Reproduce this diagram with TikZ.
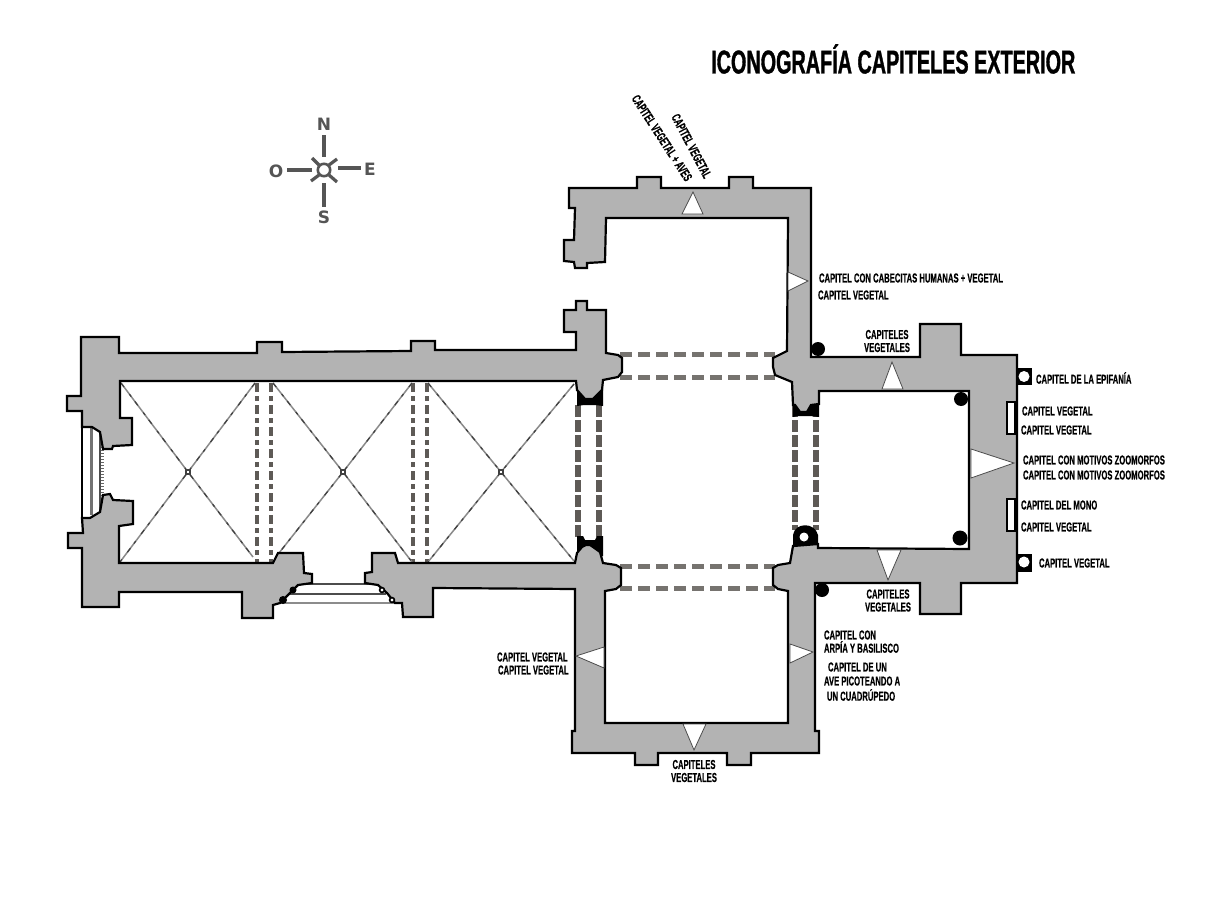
\documentclass[tikz,border=0pt]{standalone}
\usepackage{fontspec}
\setmainfont{Liberation Sans}
\newfontfamily\cnd[FakeStretch=0.59,FakeBold=0.5]{Liberation Sans Bold}
\newfontfamily\cndt[FakeStretch=0.6,FakeBold=1]{Liberation Sans Bold}
\newfontfamily\cpf{DejaVu Sans Bold}
\definecolor{wall}{HTML}{B3B3B3}
\definecolor{archd}{HTML}{5E5A56}
\definecolor{ribc}{HTML}{8A8A8A}
\definecolor{cpsc}{HTML}{555555}
\tikzset{
  x=1pt,y=-1pt,
  wallp/.style={fill=wall,draw=black,line width=2.2pt,line join=miter},
  archn/.style={draw=archd,line width=4pt,dash pattern=on 9pt off 4pt on 5pt off 4pt},
  archv/.style={draw=archd,line width=5.5pt,dash pattern=on 12pt off 3pt},
  archh/.style={draw=archd!85,line width=5pt,dash pattern=on 12pt off 6pt},
  rib/.style={draw=ribc,line width=1.5pt},
  ribd/.style={draw=black!75,line width=1.2pt,dash pattern=on 5pt off 9pt on 3pt off 6pt},
  boss/.style={fill=white,draw=black!75,line width=1.5pt},
  splay/.style={fill=white,draw=black!70,line width=.8pt},
  blob/.style={fill=black,draw=none},
  dot/.style={fill=black,draw=none},
  lab/.style={inner sep=0pt,outer sep=0pt,font=\cnd\fontsize{13}{13.5}\selectfont,text=black},
  labc/.style={lab,align=center,anchor=center},
  labw/.style={lab,anchor=west},
  ray/.style={draw=cpsc,line width=3.2pt},
  cpl/.style={inner sep=0pt,text=cpsc,font=\cpf\fontsize{17}{17}\selectfont},
  hatch/.style={draw=black!60,line width=.7pt},
  stair/.style={draw=black!70,line width=2.6pt}
}
\begin{document}
\begin{tikzpicture}
\useasboundingbox (0,0) rectangle (1209,907);
% transverse arches
\draw[archn] (257,383) -- (257,563);
\draw[archn] (271,383) -- (271,563);
\draw[archn] (413,383) -- (413,563);
\draw[archn] (427,383) -- (427,563);
\draw[archv] (578,405) -- (578,538);
\draw[archv] (599,405) -- (599,538);
\draw[archv] (795,405) -- (795,530);
\draw[archv] (816,405) -- (816,530);
\draw[archh] (620,354) -- (775,354);
\draw[archh] (620,377) -- (775,377);
\draw[archh] (620,566) -- (775,566);
\draw[archh] (620,588) -- (775,588);
% ribs
\draw[rib] (121,383) -- (188,472) -- (120,562);
\draw[rib] (255,383) -- (188,472) -- (253,557);
\draw[rib] (273,383) -- (343,472) -- (279,553);
\draw[rib] (412,383) -- (343,472) -- (412,562);
\draw[rib] (428,383) -- (501,472) -- (428,562);
\draw[rib] (574,384) -- (501,472) -- (574,561);
\draw[ribd] (121,383) -- (188,472) -- (120,562);
\draw[ribd] (255,383) -- (188,472) -- (253,557);
\draw[ribd] (273,383) -- (343,472) -- (279,553);
\draw[ribd] (412,383) -- (343,472) -- (412,562);
\draw[ribd] (428,383) -- (501,472) -- (428,562);
\draw[ribd] (574,384) -- (501,472) -- (574,561);
\draw[boss] (186,470) rectangle (190,474);
\draw[boss] (341,470) rectangle (345,474);
\draw[boss] (499,470) rectangle (503,474);
% pier blobs
\fill[blob] (577,389) -- (603,389) -- (603,406) -- (595,405) -- (584,405) -- (577,406) -- cycle;
\fill[blob] (577,536) -- (583,536) -- (585,540) -- (595,540) -- (597,536) -- (603,536) -- (603,556) -- (577,556) -- cycle;
\fill[blob] (793,403) -- (819,403) -- (819,417) -- (810,416) -- (798,416) -- (793,417) -- cycle;
\fill[blob] (793,548) -- (793,535) .. controls (795,522) and (815,522) .. (818,535) -- (818,548) -- cycle;
% west portal
\fill[white] (82,427) rectangle (104,517);
\fill[black!55] (90,428) rectangle (93,515);
\foreach \yy in {432,435,...,513} {\draw[hatch] (99,\yy) -- (104,\yy);}
\draw[black,line width=1.2pt] (82,427) -- (82,518);
\draw[black!70,line width=1.2pt] (100,432) -- (100,512);
% south portal steps
\draw[stair] (298,584) -- (378,584);
\draw[stair] (290,594) -- (386,594);
\draw[stair,draw=black!45] (280,603) -- (395,603);
% walls
\filldraw[wallp] (81,337) -- (119,337) -- (119,353) -- (257,353) -- (257,342) -- (282,342) -- (282,352) -- (411,351) -- (411,341) -- (435,341) -- (435,350) -- (576,350) -- (576,332) -- (564,332) -- (564,310) -- (576,310) -- (576,301) -- (587,301) -- (587,310) -- (606,310) -- (606,353) -- (618,355) -- (622,358) -- (622,372) -- (618,377) -- (603,380) -- (602,390) -- (593,399) -- (585,399) -- (577,390) -- (576,381) -- (120,381) -- (120,418) -- (132,418) -- (132,445) -- (113,446) -- (112,449) -- (103,449) -- (100,432) -- (92,427) -- (82,427) -- (82,411) -- (67,411) -- (67,396) -- (81,396) -- cycle;
\filldraw[wallp] (82,518) -- (90,518) -- (100,512) -- (103,495) -- (110,494) -- (113,500) -- (133,501) -- (133,524) -- (119,526) -- (119,563) -- (273,563) -- (278,553) -- (303,553) -- (304,573) -- (312,574) -- (312,583) -- (298,585) -- (288,595) -- (280,603) -- (273,605) -- (273,618) -- (242,618) -- (242,592) -- (119,592) -- (119,607) -- (82,607) -- (82,548) -- (68,548) -- (68,533) -- (83,533) -- cycle;
\filldraw[wallp] (372,553) -- (395,553) -- (398,563) -- (575,563) -- (577,553) -- (582,547) -- (586,545) -- (590,545) -- (593,547) -- (600,552) -- (603,563) -- (616,565) -- (621,568) -- (621,585) -- (616,589) -- (605,591) -- (605,723) -- (788,723) -- (788,591) -- (778,589) -- (773,585) -- (773,568) -- (778,565) -- (790,563) -- (793,546) -- (818,544) -- (818,548) -- (969,549) -- (969,391) -- (819,391) -- (819,404) -- (811,405) -- (807,412) -- (800,412) -- (795,405) -- (793,405) -- (792,382) -- (775,375) -- (773,367) -- (773,358) -- (787,351) -- (788,218) -- (606,218) -- (605,262) -- (587,263) -- (587,268) -- (575,268) -- (574,262) -- (564,261) -- (564,240) -- (574,240) -- (575,208) -- (569,208) -- (569,188) -- (637,188) -- (637,177) -- (661,177) -- (661,188) -- (729,188) -- (729,177) -- (753,177) -- (753,188) -- (811,188) -- (811,357) -- (920,357) -- (920,324) -- (961,324) -- (961,355) -- (1017,355) -- (1017,583) -- (961,583) -- (961,614) -- (920,614) -- (920,583) -- (815,583) -- (815,731) -- (819,731) -- (819,753) -- (751,753) -- (751,765) -- (727,765) -- (727,753) -- (658,753) -- (658,765) -- (635,765) -- (635,753) -- (572,753) -- (572,731) -- (575,731) -- (575,589) -- (433,588) -- (433,617) -- (403,617) -- (402,603) -- (395,603) -- (387,593) -- (378,585) -- (365,583) -- (365,573) -- (372,572) -- cycle;
% SE pier arch hole, portal knots
\fill[white] (804,537) circle (4.5);
\fill[black] (283,600) circle (4);
\fill[black] (293,590) circle (3.5);
\filldraw[fill=white,draw=black,line width=1.6pt] (382,590) circle (2.4);
\filldraw[fill=white,draw=black,line width=1.6pt] (392,600) circle (2.4);
% splayed windows
\filldraw[splay] (682,214) -- (693,192) -- (703,214) -- cycle;
\filldraw[splay] (788,272) -- (808,281) -- (788,291) -- cycle;
\filldraw[splay] (882,389) -- (892,362) -- (903,389) -- cycle;
\filldraw[splay] (971,449) -- (1014,463) -- (971,478) -- cycle;
\filldraw[splay] (877,550) -- (888,580) -- (901,550) -- cycle;
\filldraw[splay] (604,647) -- (576,656) -- (604,668) -- cycle;
\filldraw[splay] (790,644) -- (813,652) -- (790,663) -- cycle;
\filldraw[splay] (683,724) -- (694,750) -- (706,724) -- cycle;
% wall niches
\filldraw[fill=black] (1017,368) rectangle (1031,384);
\fill[white] (1024,376.5) circle (5.5);
\filldraw[fill=black] (1017,554) rectangle (1031,571);
\fill[white] (1024,562) circle (5.5);
\filldraw[fill=white,draw=black,line width=1.6pt] (1007,402) rectangle (1015,434);
\filldraw[fill=white,draw=black,line width=1.6pt] (1007,499) rectangle (1015,531);
% dots
\fill[dot] (818,349) circle (7);
\fill[dot] (961,399) circle (7);
\fill[dot] (960,538) circle (7.5);
\fill[dot] (822,590) circle (7);
% compass
\draw[ray] (324,135) -- (324,157);
\draw[ray] (324,183) -- (324,207);
\draw[ray] (287,170) -- (312,170);
\draw[ray] (338,168) -- (361,168);
\draw[ray] (329,165) -- (337,159);
\draw[ray] (319,165) -- (312,158);
\draw[ray] (319,175) -- (311,181);
\draw[ray] (329,175) -- (337,182);
\filldraw[fill=white,draw=cpsc,line width=2.6pt] (324,170) circle (6.2);
\node[cpl] (cn) at (324,124) {N};
\node[cpl] (co) at (276,171) {O};
\node[cpl] (ce) at (370,169) {E};
\node[cpl] (cs) at (324,217) {S};
% title
\node[inner sep=0pt,anchor=west,font=\cndt\fontsize{33}{33}\selectfont] (title) at (711,59) {ICONOGRAFÍA CAPITELES EXTERIOR};
% labels
\node[lab,rotate=-62] (r1) at (691.5,146) {CAPITEL VEGETAL};
\node[lab,rotate=-57] (r2) at (662,138) {CAPITEL VEGETAL + AVES};
\node[labw] (a1) at (819,278) {CAPITEL CON CABECITAS HUMANAS + VEGETAL};
\node[labw] (a2) at (818,295) {CAPITEL VEGETAL};
\node[labc] (a3) at (887,341) {CAPITELES\\[-.5pt]VEGETALES};
\node[labw] (a4) at (1036,378) {CAPITEL DE LA EPIFANÍA};
\node[labw] (a5) at (1022,411) {CAPITEL VEGETAL};
\node[labw] (a6) at (1021,430) {CAPITEL VEGETAL};
\node[labw] (a7) at (1023,460) {CAPITEL CON MOTIVOS ZOOMORFOS};
\node[labw] (a8) at (1023,475) {CAPITEL CON MOTIVOS ZOOMORFOS};
\node[labw] (a9) at (1021,505) {CAPITEL DEL MONO};
\node[labw] (a10) at (1021,527) {CAPITEL VEGETAL};
\node[labw] (a11) at (1039,563) {CAPITEL VEGETAL};
\node[labc] (a12) at (888,600.5) {CAPITELES\\[-.5pt]VEGETALES};
\node[labw] (b1) at (497,657) {CAPITEL VEGETAL};
\node[labw] (b2) at (498,670) {CAPITEL VEGETAL};
\node[labw] (b3) at (824,635) {CAPITEL CON};
\node[labw] (b4) at (824,647) {ARPÍA Y BASILISCO};
\node[labw] (b5) at (828,667) {CAPITEL DE UN};
\node[labw] (b6) at (824,681) {AVE PICOTEANDO A};
\node[labw] (b7) at (827,695) {UN CUADRÚPEDO};
\node[labc] (b8) at (694,771) {CAPITELES\\[-.5pt]VEGETALES};
\end{tikzpicture}
\end{document}
